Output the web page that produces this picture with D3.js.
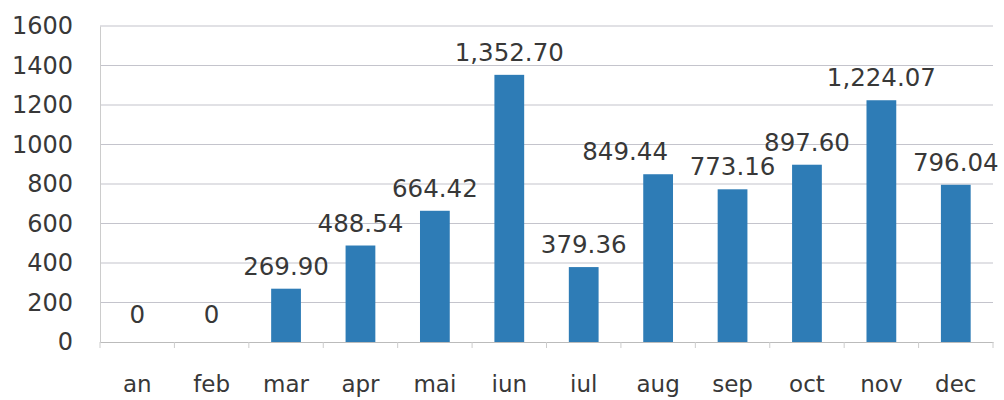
<!DOCTYPE html>
<html><head><meta charset="utf-8">
<script src="https://cdn.jsdelivr.net/npm/d3@7"></script>
<style>body{margin:0;background:#fff}svg{display:block}</style>
</head><body>
<svg id="chart" width="1004" height="400"></svg>
<script>
const categories = ["an","feb","mar","apr","mai","iun","iul","aug","sep","oct","nov","dec"];
const values = [0,0,269.90,488.54,664.42,1352.70,379.36,849.44,773.16,897.60,1224.07,796.04];
const labels = ["0","0","269.90","488.54","664.42","1,352.70","379.36","849.44","773.16","897.60","1,224.07","796.04"];
const yTicks = [0,200,400,600,800,1000,1200,1400,1600];

(function(){
const svg = d3.select("#chart");
const mLeft = 100, mRight = 993, mTop = 26, mBottom = 342;
const x = d3.scaleBand().domain(categories).range([mLeft, mRight]).paddingInner(0.6).paddingOuter(0.3);
const y = d3.scaleLinear().domain([0,1600]).range([mBottom, mTop]);
const font = "DejaVu Sans, Verdana, sans-serif";
const textColor = "#383838";

// gridlines
svg.append("g").selectAll("line").data(yTicks.filter(d=>d>0)).join("line")
  .attr("x1", mLeft).attr("x2", mRight)
  .attr("y1", d=>y(d)).attr("y2", d=>y(d))
  .attr("stroke", "#c4c4cc").attr("stroke-width", 1.2);

// y axis
const yAxis = svg.append("g").attr("transform", `translate(${mLeft},0)`)
  .call(d3.axisLeft(y).tickValues(yTicks).tickFormat(d3.format("d")).tickSize(0).tickPadding(27));
yAxis.select(".domain").attr("stroke", "#ccc");
yAxis.selectAll("text").attr("font-family", font).attr("font-size", 24).attr("fill", textColor);

// bars
svg.append("g").selectAll("rect").data(values).join("rect")
  .attr("x", (d,i)=>x(categories[i]))
  .attr("width", x.bandwidth())
  .attr("y", d=>y(d))
  .attr("height", d=>mBottom - y(d))
  .attr("fill", "#2e7cb6");

// x axis
const step = x.step();
const xAxis = svg.append("g").attr("transform", `translate(0,${mBottom})`)
  .call(d3.axisBottom(x).tickSize(0).tickPadding(34));
xAxis.select(".domain").attr("stroke", "#bbb").attr("stroke-width", 1.2);
xAxis.selectAll("text").attr("font-family", font).attr("font-size", 23).attr("fill", textColor);
// category separators
svg.append("g").selectAll("line").data(d3.range(categories.length+1)).join("line")
  .attr("x1", i=>mLeft + i*step).attr("x2", i=>mLeft + i*step)
  .attr("y1", mBottom).attr("y2", mBottom+6)
  .attr("stroke", "#ccc");

// data labels (aug label nudged left as in the original to avoid overlap)
const nudge = c => c === "aug" ? -33 : 0;
svg.append("g").selectAll("text").data(values).join("text")
  .attr("x", (d,i)=>x(categories[i]) + x.bandwidth()/2 + nudge(categories[i]))
  .attr("y", d=>y(d) - (d === 0 ? 19 : 14))
  .attr("text-anchor", "middle")
  .attr("font-family", font).attr("font-size", 24.5).attr("fill", textColor)
  .text((d,i)=>labels[i]);
})();
</script>
</body></html>
